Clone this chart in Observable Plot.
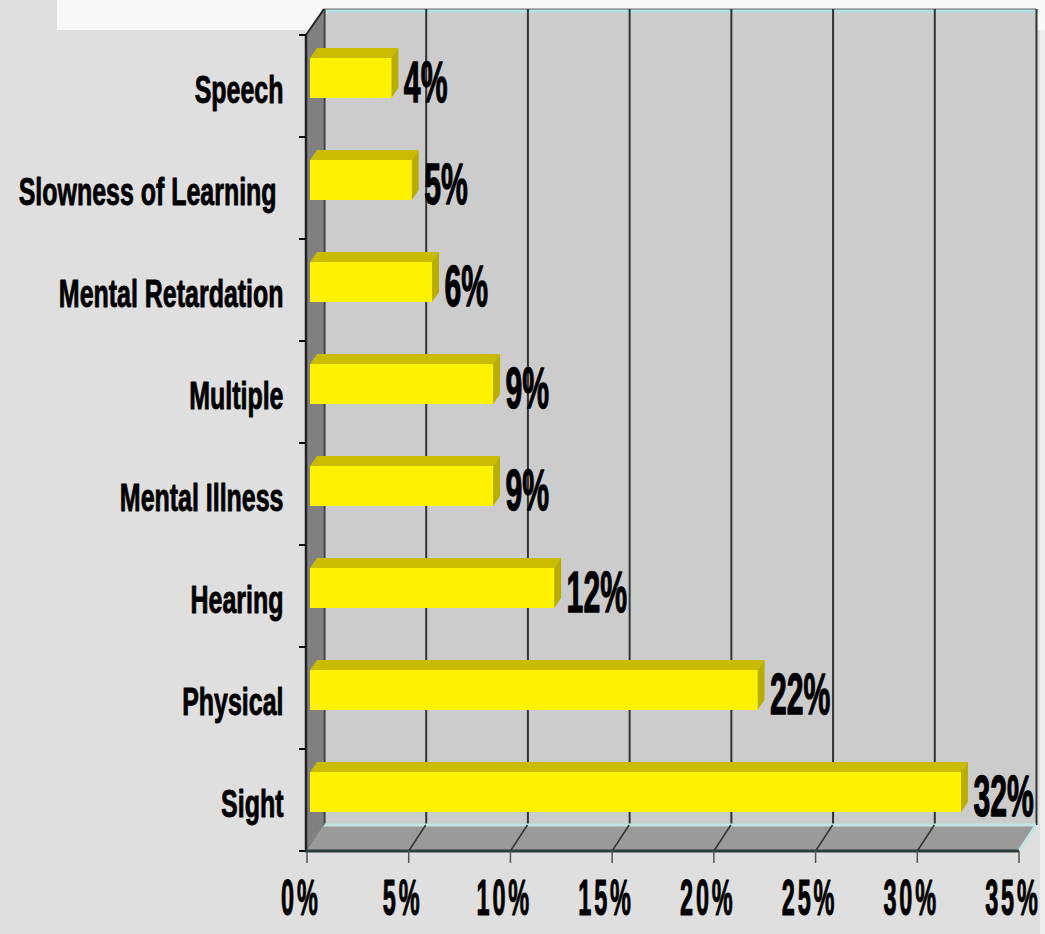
<!DOCTYPE html>
<html><head><meta charset="utf-8">
<script src="https://cdn.jsdelivr.net/npm/d3@7"></script>
<script src="https://cdn.jsdelivr.net/npm/@observablehq/plot@0.6"></script>
<style>
html,body{margin:0;padding:0;background:#dfdfdf;}
body{width:1045px;height:934px;position:relative;overflow:hidden;}
#topbox{position:absolute;left:57px;top:0;width:988px;height:30px;background:#f8f8f8;}
#rightstrip{position:absolute;left:1040px;top:30px;width:5px;height:904px;background:#ededed;}
#chart{position:absolute;left:0;top:0;}
</style></head><body>
<div id="topbox"></div><div id="rightstrip"></div>
<div id="chart"></div>
<script>
const categories = ["Speech","Slowness of Learning ","Mental Retardation","Multiple","Mental Illness","Hearing","Physical","Sight"];
const values = [4,5,6,9,9,12,22,32];
const valueLabels = ["4%","5%","6%","9%","9%","12%","22%","32%"];
const xTicks = [0,5,10,15,20,25,30,35];
const xTickLabels = ["0%","5%","10%","15%","20%","25%","30%","35%"];

const data = categories.map((c,i)=>({cat:c, value:values[i], label:valueLabels[i]}));

// 3D depth offsets
const DX = 17, DY = -26;        // back wall
const BDX = 3;                  // bar front face shift
const TDX = 7, TDY = -10;       // bar depth
const INSET_T = 23, INSET_B = 39;

function fmark(fn){
  return function(...args){
    const scales = args.find(a => a && typeof a.x === "function");
    const dims = args.find(a => a && typeof a.width === "number" && a.marginLeft !== undefined);
    return fn(scales, dims);
  };
}
const poly = (g, pts, fill, stroke, sw) => g.append("polygon")
  .attr("points", pts.map(p=>p.join(",")).join(" "))
  .attr("fill", fill).attr("stroke", stroke||"none").attr("stroke-width", sw||0);

function bandInfo(scales, dims){
  const y = scales.y;
  const n = categories.length;
  const step = (dims.height - dims.marginTop - dims.marginBottom)/n;
  const bw = typeof y.bandwidth === "function" ? y.bandwidth() : step;
  return {y, bw};
}

// back wall
const walls = fmark((scales, dims) => {
  const x = scales.x;
  const y0 = dims.marginTop, y1 = dims.height - dims.marginBottom;
  const x0 = x(0), x1 = x(xTicks[xTicks.length-1]);
  const g = d3.create("svg:g");
  g.append("rect").attr("x", x0+DX).attr("y", y0+DY).attr("width", x1-x0).attr("height", y1-y0)
    .attr("fill", "#cccccc");
  g.append("line").attr("x1", x0+DX).attr("x2", x1+DX+2).attr("y1", y0+DY+2).attr("y2", y0+DY+2)
    .attr("stroke", "#b7dede").attr("stroke-width", 4);
  g.append("line").attr("x1", x0+DX).attr("x2", x1+DX).attr("y1", y0+DY).attr("y2", y0+DY)
    .attr("stroke", "#666").attr("stroke-width", 1);
  return g.node();
});

const floorAndSide = fmark((scales, dims) => {
  const x = scales.x;
  const {y, bw} = bandInfo(scales, dims);
  const y0 = dims.marginTop, y1 = dims.height - dims.marginBottom;
  const x0 = x(0), x1 = x(xTicks[xTicks.length-1]);
  const g = d3.create("svg:g");
  // floor
  poly(g, [[x0, y1],[x0+DX, y1+DY],[x1+DX, y1+DY],[x1, y1]], "#9a9a9a");
  g.append("line").attr("x1", x0+DX).attr("x2", x1+DX).attr("y1", y1+DY).attr("y2", y1+DY)
    .attr("stroke", "#c4e4e4").attr("stroke-width", 3);
  g.append("line").attr("x1", x1+DX).attr("x2", x1).attr("y1", y1+DY).attr("y2", y1)
    .attr("stroke", "#c4e4e4").attr("stroke-width", 3);
  for (const t of xTicks.slice(1, -1)) {
    g.append("line").attr("x1", x(t)+DX).attr("y1", y1+DY).attr("x2", x(t)).attr("y2", y1)
      .attr("stroke", "#333").attr("stroke-width", 1.5);
  }
  // side wall
  poly(g, [[x0, y0],[x0+DX, y0+DY],[x0+DX, y1+DY],[x0, y1]], "#808080");
  g.append("line").attr("x1", x0+DX).attr("y1", y0+DY).attr("x2", x0+DX).attr("y2", y1+DY)
    .attr("stroke", "#555").attr("stroke-width", 1);
  // axis lines
  g.append("line").attr("x1", x0-1).attr("y1", y0).attr("x2", x0+DX).attr("y2", y0+DY)
    .attr("stroke", "#222").attr("stroke-width", 2);
  g.append("line").attr("x1", x0-1).attr("y1", y0).attr("x2", x0-1).attr("y2", y1)
    .attr("stroke", "#222").attr("stroke-width", 2.5);
  g.append("line").attr("x1", x0-2).attr("y1", y1).attr("x2", x1).attr("y2", y1)
    .attr("stroke", "#2c3c3c").attr("stroke-width", 3);
  // y ticks at band boundaries
  const bounds = categories.map(c => y(c)).concat([y(categories[categories.length-1]) + bw]);
  for (const b of bounds) {
    g.append("line").attr("x1", x0-8).attr("x2", x0-1).attr("y1", b).attr("y2", b)
      .attr("stroke", "#111").attr("stroke-width", 2);
  }
  // x ticks
  for (const t of xTicks) {
    g.append("line").attr("x1", x(t)).attr("x2", x(t)).attr("y1", y1).attr("y2", y1+12)
      .attr("stroke", "#555").attr("stroke-width", 1.5);
  }
  return g.node();
});

const barDepth = fmark((scales, dims) => {
  const x = scales.x;
  const {y, bw} = bandInfo(scales, dims);
  const g = d3.create("svg:g");
  for (const d of data) {
    const xs = x(0)+BDX, xe = x(d.value)+BDX;
    const yt = y(d.cat)+INSET_T, yb = y(d.cat)+bw-INSET_B;
    poly(g, [[xs,yt],[xs+TDX,yt+TDY],[xe+TDX,yt+TDY],[xe,yt]], "#c8bb00");
    poly(g, [[xe,yt],[xe+TDX,yt+TDY],[xe+TDX,yb+TDY],[xe,yb]], "#b9ad00");
  }
  return g.node();
});

const plot = Plot.plot({
  width: 1045,
  height: 934,
  marginLeft: 307,
  marginRight: 26,
  marginTop: 35,
  marginBottom: 83,
  x: {domain: [0, 35], axis: null},
  y: {domain: categories, padding: 0, axis: null},
  style: {background: "transparent", fontFamily: "'Liberation Sans', Arial, sans-serif", overflow: "visible"},
  marks: [
    walls,
    Plot.ruleX(xTicks, {x: d => d, dx: DX, dy: DY, stroke: "#333", strokeWidth: 2}),
    floorAndSide,
    barDepth,
    Plot.barX(data, {x: "value", y: "cat", fill: "#fff200", insetTop: INSET_T, insetBottom: INSET_B, dx: BDX}),
    Plot.text(categories, {y: d => d, text: d => d, frameAnchor: "left", textAnchor: "end", dx: -24, dy: 4,
      fontSize: 39, fontWeight: "bold", fill: "#000", stroke: "#000", strokeWidth: 0.9}),
    Plot.text(data, {x: "value", y: "cat", text: "label", textAnchor: "start", dx: 15, dy: -3,
      fontSize: 58, fontWeight: "bold", fill: "#000", stroke: "#000", strokeWidth: 1.3}),
    Plot.text(xTicks, {x: d => d, text: (d, i) => xTickLabels[i], frameAnchor: "bottom", dy: 63, dx: -5,
      fontSize: 50, fontWeight: "bold", fill: "#000", stroke: "#000", strokeWidth: 1.1})
  ]
});
document.getElementById("chart").appendChild(plot);

// condense the bold labels horizontally (narrow face of the original):
// each text is wrapped in a group that scales it about its own anchor point
const XMLNS = "http://www.w3.org/XML/1998/namespace";
const SVGNS = "http://www.w3.org/2000/svg";
const factors = [0.64, 0.52, 0.47];
const anchors = ["end", "start", "middle"];
plot.querySelectorAll('g[aria-label="text"]').forEach((g, gi) => {
  const s = factors[gi];
  Array.from(g.querySelectorAll("text")).forEach(t => {
    t.setAttributeNS(XMLNS, "xml:space", "preserve");
    if (gi === 2) t.style.letterSpacing = "6px";
    const bb = t.getBBox();
    let ax;
    if (anchors[gi] === "end") ax = bb.x + bb.width;
    else if (anchors[gi] === "start") ax = bb.x;
    else ax = bb.x + (gi === 2 ? (bb.width - 6) / 2 : bb.width / 2);
    if (!isFinite(ax)) ax = 0;
    const own = t.getAttribute("transform") || "";
    const wrap = document.createElementNS(SVGNS, "g");
    wrap.setAttribute("transform", `${own} translate(${ax},0) scale(${s},1) translate(${-ax},0)`);
    t.removeAttribute("transform");
    t.parentNode.insertBefore(wrap, t);
    wrap.appendChild(t);
  });
});
</script>
</body></html>
